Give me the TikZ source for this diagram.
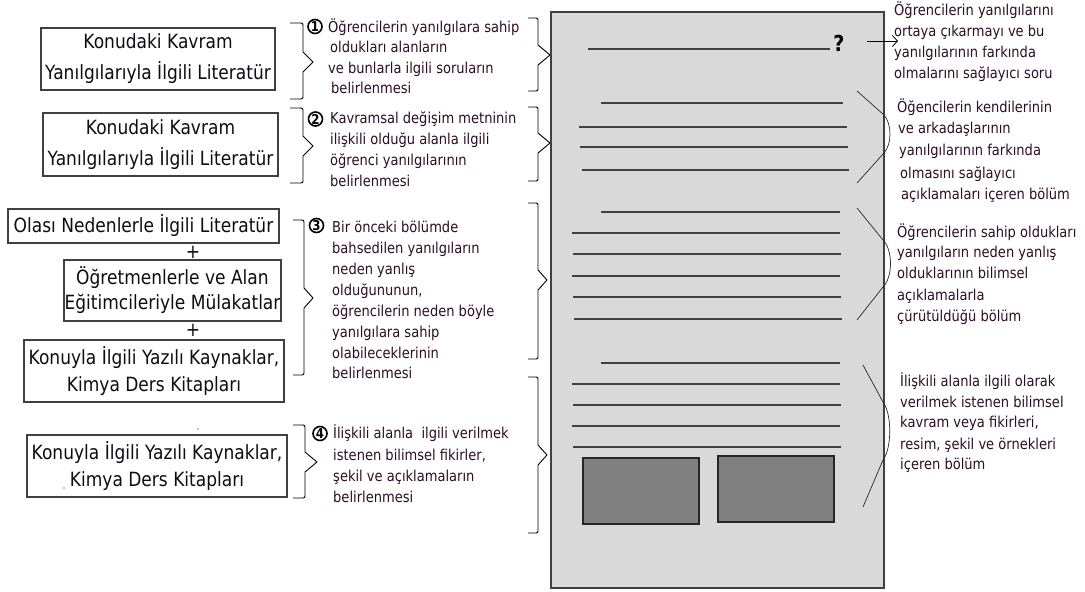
\documentclass[tikz,border=0pt]{standalone}
\usepackage{fontspec}
\setmainfont{DejaVu Sans}[FakeStretch=0.87]
\usetikzlibrary{arrows.meta}
\definecolor{txt}{RGB}{45,14,38}
\definecolor{boxtxt}{RGB}{15,12,22}
\definecolor{pagefill}{RGB}{217,217,217}
\definecolor{lineg}{RGB}{64,64,64}
\definecolor{darkrect}{RGB}{128,128,128}
\definecolor{curveg}{RGB}{40,40,40}
\newcommand{\midfont}{\fontsize{15}{20}\selectfont}
\newcommand{\boxfont}{\fontsize{19.6}{31}\selectfont}
\newcommand{\numfont}{\fontsize{13.5}{13.5}\selectfont\bfseries}
\newcommand{\mybrace}[6]{%
  \draw[brace] (#1,#4) -- ({#2-4},#4) .. controls (#2,#4) .. (#2,{#4+4})
    -- (#2,{#5-10}) -- (#3,#5) -- (#2,{#5+10}) -- (#2,{#6-4})
    .. controls (#2,#6) .. ({#2-4},#6) -- (#1,#6);}
\tikzset{
  boxnode/.style={draw=lineg, line width=1.2pt, inner sep=0pt, text=boxtxt, align=center},
  mid/.style={anchor=base west, inner sep=0pt, font=\midfont, text=txt},
  plus/.style={inner sep=0pt, font=\boxfont, text=boxtxt},
  pageline/.style={draw=lineg, line width=1.3pt},
  brace/.style={draw=black, line width=0.9pt, line join=round},
  cbrace/.style={draw=curveg, line width=0.7pt},
  num/.style={circle, draw=black, line width=1.6pt, inner sep=0pt, minimum size=14pt, font=\numfont},
  darkbox/.style={fill=darkrect, draw=black!85, line width=1.2pt},
  arr/.style={draw=black, line width=0.8pt, -{Straight Barb[length=5pt,width=11pt]}},
}
\begin{document}
\begin{tikzpicture}[x=1pt,y=-1pt]
\useasboundingbox (0,0) rectangle (1085,592);
\fill[white] (0,0) rectangle (1085,592);

% ---------- left boxes ----------
\node[boxnode, minimum width=234pt, minimum height=62pt, font={\fontsize{19.6}{31}\selectfont}] (b1) at (158,59) {Konudaki Kavram\\Yanılgılarıyla İlgili Literatür};
\node[boxnode, minimum width=235pt, minimum height=63pt, font={\fontsize{19.6}{31}\selectfont}] (b2) at (160.5,144.5) {Konudaki Kavram\\Yanılgılarıyla İlgili Literatür};
\node[boxnode, minimum width=271pt, minimum height=34pt, font={\fontsize{19.6}{31}\selectfont}] (b3) at (143.5,226) {Olası Nedenlerle İlgili Literatür};
\node[plus] (p1) at (193,252.5) {+};
\node[boxnode, minimum width=217pt, minimum height=61pt, font={\fontsize{19.6}{25}\selectfont}] (b4) at (172.5,290.5) {Öğretmenlerle ve Alan\\Eğitimcileriyle Mülakatlar};
\node[plus] (p2) at (193,330) {+};
\node[boxnode, minimum width=260pt, minimum height=62pt, font={\fontsize{19.6}{27}\selectfont}] (b5) at (154,371) {Konuyla İlgili Yazılı Kaynaklar,\\Kimya Ders Kitapları};
\node[boxnode, minimum width=260pt, minimum height=62pt, font={\fontsize{19.6}{27}\selectfont}] (b6) at (157,466) {Konuyla İlgili Yazılı Kaynaklar,\\Kimya Ders Kitapları};
\fill[black] (198,429) circle (0.6);
\fill[black] (64,488) circle (0.6);

% ---------- middle braces ----------
\mybrace{290}{303}{313}{23}{62}{99}
\mybrace{290}{303}{313}{108}{146}{183}
\mybrace{293}{304}{313}{220}{298}{375}
\mybrace{293}{305}{317}{425}{462}{498}
\mybrace{528}{538}{550}{18}{55}{91}
\mybrace{528}{538}{550}{107}{143}{181}
\mybrace{528}{538}{547}{203}{280}{359}
\mybrace{528}{538}{547}{377}{455}{533}

% ---------- middle numbers and texts ----------
\node[num] (n1) at (315,26.5) {1};
\node[num] (n2) at (315.5,119) {2};
\node[num] (n3) at (316.5,225.5) {3};
\node[num] (n4) at (320,433.5) {4};

\node[mid] (m1a) at (328,32) {Öğrencilerin yanılgılara sahip};
\node[mid] (m1b) at (330,52.5) {oldukları alanların};
\node[mid] (m1c) at (328,73) {ve bunlarla ilgili soruların};
\node[mid] (m1d) at (331,93) {belirlenmesi};

\node[mid] (m2a) at (330,123) {Kavramsal değişim metninin};
\node[mid] (m2b) at (330,144) {ilişkili olduğu alanla ilgili};
\node[mid] (m2c) at (330,165) {öğrenci yanılgılarının};
\node[mid] (m2d) at (330,186) {belirlenmesi};

\node[mid] (m3a) at (332,232) {Bir önceki bölümde};
\node[mid] (m3b) at (332,253) {bahsedilen yanılgıların};
\node[mid] (m3c) at (332,274) {neden yanlış};
\node[mid] (m3d) at (332,295) {olduğununun,};
\node[mid] (m3e) at (332,316) {öğrencilerin neden böyle};
\node[mid] (m3f) at (332,337) {yanılgılara sahip};
\node[mid] (m3g) at (332,358) {olabileceklerinin};
\node[mid] (m3h) at (332,378) {belirlenmesi};

\node[mid] (m4a) at (333,438) {İlişkili alanla\ \ ilgili verilmek};
\node[mid] (m4b) at (333,460) {istenen bilimsel fikirler,};
\node[mid] (m4c) at (333,481) {şekil ve açıklamaların};
\node[mid] (m4d) at (333,502) {belirlenmesi};

% ---------- page ----------
\draw[fill=pagefill, draw=lineg, line width=1.2pt] (551,12) rectangle (884,588);
\draw[pageline] (588,49) -- (830,49);
\node[inner sep=0pt, anchor=base, font={\fontsize{22}{22}\selectfont\bfseries}] (q) at (839,51) {?};
\draw[pageline] (601,103) -- (843,103);
\draw[pageline] (579,127) -- (847,127);
\draw[pageline] (580,147) -- (848,147);
\draw[pageline] (582,170) -- (849,170);
\draw[pageline] (601,212) -- (840,212);
\draw[pageline] (572,233) -- (840,233);
\draw[pageline] (573,254) -- (841,254);
\draw[pageline] (572,276) -- (840,276);
\draw[pageline] (573,297) -- (841,297);
\draw[pageline] (574,319) -- (842,319);
\draw[pageline] (601,363) -- (840,363);
\draw[pageline] (572,384) -- (840,384);
\draw[pageline] (573,405) -- (841,405);
\draw[pageline] (572,426) -- (840,426);
\draw[pageline] (573,447) -- (841,447);
\draw[darkbox] (583,458) rectangle (699,524);
\draw[darkbox] (718,456) rectangle (834,522);

% ---------- right side ----------
\coordinate (as) at (867,41);
\coordinate (ae) at (898,41);
\draw[arr] (as) -- (ae);

\draw[cbrace] (857,91) -- (884,115) .. controls (892,124) and (892,144) .. (884,153) -- (857,183);
\draw[cbrace] (857,208) -- (883,240) .. controls (893,250) and (893,277) .. (883,287) -- (857,320);
\draw[cbrace] (863,365) -- (883,402) .. controls (892,414) and (892,448) .. (883,460) -- (863,507);

\node[mid] (r1a) at (894,15) {Öğrencilerin yanılgılarını};
\node[mid] (r1b) at (894,36) {ortaya çıkarmayı ve bu};
\node[mid] (r1c) at (894,57) {yanılgılarının farkında};
\node[mid] (r1d) at (894,78) {olmalarını sağlayıcı soru};

\node[mid] (r2a) at (897,112) {Öğencilerin kendilerinin};
\node[mid] (r2b) at (898,133) {ve arkadaşlarının};
\node[mid] (r2c) at (899,155) {yanılgılarının farkında};
\node[mid] (r2d) at (900,178) {olmasını sağlayıcı};
\node[mid] (r2e) at (901,199) {açıklamaları içeren bölüm};

\node[mid] (r3a) at (897,237) {Öğrencilerin sahip oldukları};
\node[mid] (r3b) at (897,257) {yanılgıların neden yanlış};
\node[mid] (r3c) at (897,278) {olduklarının bilimsel};
\node[mid] (r3d) at (897,300) {açıklamalarla};
\node[mid] (r3e) at (897,321) {çürütüldüğü bölüm};

\node[mid] (r4a) at (900,386) {İlişkili alanla ilgili olarak};
\node[mid] (r4b) at (900,407) {verilmek istenen bilimsel};
\node[mid] (r4c) at (900,427) {kavram veya fikirleri,};
\node[mid] (r4d) at (900,449) {resim, şekil ve örnekleri};
\node[mid] (r4e) at (900,469) {içeren bölüm};
\end{tikzpicture}
\end{document}
